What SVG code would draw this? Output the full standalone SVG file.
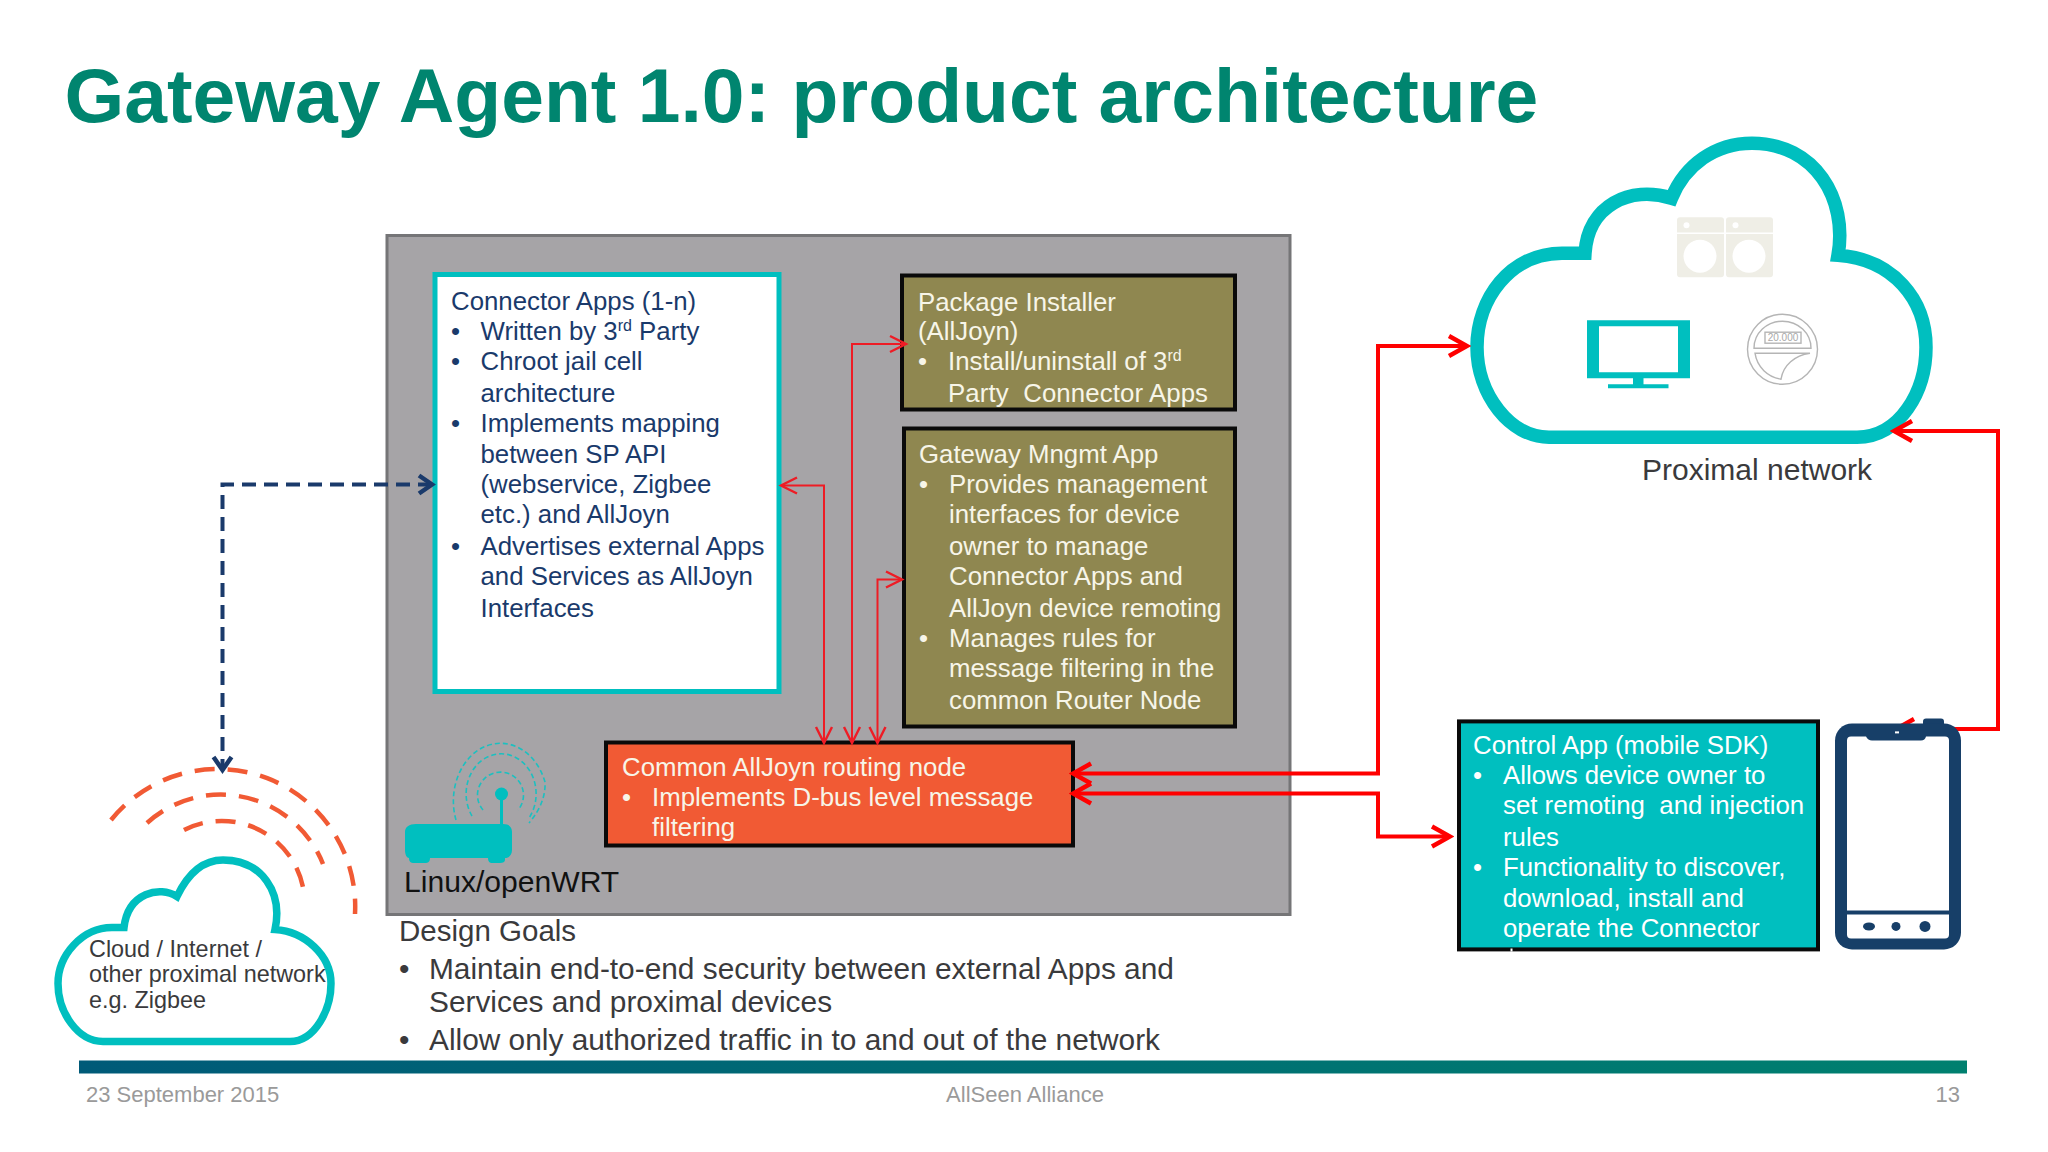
<svg xmlns="http://www.w3.org/2000/svg" width="2048" height="1152" viewBox="0 0 2048 1152">
<style>
text{font-family:"Liberation Sans",Arial,sans-serif;white-space:pre}
.b{font-size:25.8px}
.navy{fill:#1a3a6b}.lt{fill:#f7f5e8}.wh{fill:#fff}
.dk{fill:#3a3a3c}
.dg{font-size:29.850px}
.foot{font-size:22px;fill:#9a9a9a}
.arc{fill:none;stroke:#f15a34;stroke-width:4.5;stroke-dasharray:20 13}
.ring{fill:none;stroke:#1cc0c0;stroke-width:1.6;stroke-dasharray:5 3}
.thin{fill:none;stroke:#ee1c25;stroke-width:2;marker-start:url(#rt);marker-end:url(#rt)}
.thick{fill:none;stroke:#f00;stroke-width:4;marker-start:url(#rk);marker-end:url(#rk)}
.dash{fill:none;stroke:#1a3a6b;stroke-width:4;stroke-dasharray:14 8;marker-start:url(#nv);marker-end:url(#nv)}
.cloud{fill:#fff;stroke:#00bfbf}
.m{fill:none;stroke:#b5b5b5;stroke-width:1.4}
</style>
<defs>
<linearGradient id="bar"><stop offset="0" stop-color="#005a78"/><stop offset="1" stop-color="#00806f"/></linearGradient>
<marker id="rt" markerUnits="userSpaceOnUse" markerWidth="22" markerHeight="22" refX="19" refY="11" orient="auto-start-reverse"><path d="M3 3L19 11L3 19" fill="none" stroke="#ee1c25" stroke-width="2.4"/></marker>
<marker id="rk" markerUnits="userSpaceOnUse" markerWidth="26" markerHeight="30" refX="22" refY="15" orient="auto-start-reverse"><path d="M4 5L22 15L4 25" fill="none" stroke="#f00" stroke-width="4.5"/></marker>
<marker id="nv" markerUnits="userSpaceOnUse" markerWidth="24" markerHeight="26" refX="20" refY="13" orient="auto-start-reverse"><path d="M7 4L20 13L7 22" fill="none" stroke="#1a3a6b" stroke-width="4.5"/></marker>
</defs>
<rect width="2048" height="1152" fill="#fff"/>
<text id="title" x="64.500" y="122" font-size="76.8" font-weight="700" fill="#00856f">Gateway Agent 1.0: product architecture</text>

<g id="gateway-device">
<rect x="387" y="235.500" width="903" height="679" fill="#a6a4a7" stroke="#757577" stroke-width="3"/>
<text x="404" y="892" font-size="30.100" fill="#111">Linux/openWRT</text>
</g>

<g id="router-icon" transform="translate(0,-2)">
<path d="M416 826H500V796H503V826H503.500H503C509 826 512 829 512 834V852C512 857 509 860 505 860V862C505 864 503 865 500 865H492C490 865 488 864 488 860H430C430 864 428 865 425 865H414C411 865 409 864 409 860C407 860 405 857 405 852V834C405 829 409 826 416 826Z" fill="#00bfbf"/>
<circle cx="501.500" cy="796" r="6.500" fill="#00bfbf"/>
<path class="ring" d="M483 812A23 23 0 1 1 518 812"/>
<path class="ring" d="M472 818A35 40 0 1 1 529 820"/>
<path class="ring" d="M456 822A46.500 57 0 0 1 545 784Q546 805 529 825"/>
</g>

<g id="connector-apps">
<rect x="435" y="274.500" width="344" height="417" fill="#fff" stroke="#00bfbf" stroke-width="5"/>
<text class="b navy" x="451" y="309.500">Connector Apps (1-n)</text>
<text class="b navy" x="451" y="339.500">•</text><text class="b navy" x="480.500" y="339.500">Written by 3<tspan font-size="16" dy="-9">rd</tspan><tspan dy="9"> Party</tspan></text>
<text class="b navy" x="451" y="369.500">•</text><text class="b navy" x="480.500" y="369.500">Chroot jail cell</text>
<text class="b navy" x="480.500" y="401.500">architecture</text>
<text class="b navy" x="451" y="431.500">•</text><text class="b navy" x="480.500" y="431.500">Implements mapping</text>
<text class="b navy" x="480.500" y="463">between SP API</text>
<text class="b navy" x="480.500" y="493">(webservice, Zigbee</text>
<text class="b navy" x="480.500" y="523">etc.) and AllJoyn</text>
<text class="b navy" x="451" y="555">•</text><text class="b navy" x="480.500" y="555">Advertises external Apps</text>
<text class="b navy" x="480.500" y="585">and Services as AllJoyn</text>
<text class="b navy" x="480.500" y="617">Interfaces</text>
</g>

<g id="package-installer">
<rect x="902" y="275.500" width="333" height="134" fill="#8f8750" stroke="#0a0a0a" stroke-width="4"/>
<text class="b lt" x="918" y="311">Package Installer</text>
<text class="b lt" x="918" y="340">(AllJoyn)</text>
<text class="b lt" x="918" y="370">•</text><text class="b lt" x="948" y="370">Install/uninstall of 3<tspan font-size="16" dy="-9">rd</tspan></text>
<text class="b lt" x="948" y="402" textLength="260" lengthAdjust="spacing">Party  Connector Apps</text>
</g>

<g id="gateway-mngmt-app">
<rect x="904" y="428.500" width="331" height="298" fill="#8f8750" stroke="#0a0a0a" stroke-width="4"/>
<text class="b lt" x="919" y="463">Gateway Mngmt App</text>
<text class="b lt" x="919" y="493">•</text><text class="b lt" x="949" y="493">Provides management</text>
<text class="b lt" x="949" y="523">interfaces for device</text>
<text class="b lt" x="949" y="555">owner to manage</text>
<text class="b lt" x="949" y="585">Connector Apps and</text>
<text class="b lt" x="949" y="617">AllJoyn device remoting</text>
<text class="b lt" x="919" y="647">•</text><text class="b lt" x="949" y="647">Manages rules for</text>
<text class="b lt" x="949" y="677">message filtering in the</text>
<text class="b lt" x="949" y="709">common Router Node</text>
</g>

<g id="routing-node">
<rect x="606" y="742.500" width="467" height="103" fill="#f15a34" stroke="#0a0a0a" stroke-width="4"/>
<text class="b lt" x="622" y="775.500">Common AllJoyn routing node</text>
<text class="b lt" x="622" y="805.500">•</text><text class="b lt" x="652" y="805.500">Implements D-bus level message</text>
<text class="b lt" x="652" y="835.500">filtering</text>
</g>

<g id="design-goals">
<text class="dk" x="399" y="941" font-size="29.500">Design Goals</text>
<text class="dk dg" x="399" y="979">•</text><text class="dk dg" x="429" y="979">Maintain end-to-end security between external Apps and</text>
<text class="dk dg" x="429" y="1011.500">Services and proximal devices</text>
<text class="dk dg" x="399" y="1050">•</text><text class="dk dg" x="429" y="1050">Allow only authorized traffic in to and out of the network</text>
</g>

<g id="proximal-network" transform="translate(0,-0.800)">
<path class="cloud" stroke-width="13.500" d="M1549 438H1857C1900 438 1926 392 1926 348C1926 300 1893 260 1838 256C1848 200 1815 144 1752 144C1715 144 1685 166 1671.500 199C1630 186 1588 206 1585 254H1562C1510 254 1477 300 1477 348C1477 395 1510 438 1549 438Z"/>
<g fill="#efeee6">
<path fill-rule="evenodd" d="M1680 218H1721Q1724 218 1724 221V275Q1724 278 1721 278H1680Q1677 278 1677 275V221Q1677 218 1680 218ZM1700 240.500A16.500 16.500 0 1 0 1700 273.500A16.500 16.500 0 1 0 1700 240.500Z"/>
<path fill-rule="evenodd" d="M1729 218H1770Q1773 218 1773 221V275Q1773 278 1770 278H1729Q1726 278 1726 275V221Q1726 218 1729 218ZM1749 240.500A16.500 16.500 0 1 0 1749 273.500A16.500 16.500 0 1 0 1749 240.500Z"/>
</g>
<path d="M1677 234H1773" stroke="#fff" stroke-width="1.500"/>
<circle cx="1686.500" cy="226" r="3" fill="#fff"/><circle cx="1735.500" cy="226" r="3" fill="#fff"/>
<path fill="#00bfbf" fill-rule="evenodd" d="M1587 321H1690V379H1643.500V385H1668.500V389H1608V385H1633V379H1587ZM1599 327V373H1678V327Z"/>
<ellipse class="m" cx="1782.500" cy="350" rx="35" ry="35"/>
<path class="m" d="M1754 349A28.500 27 0 0 1 1811 349Z"/>
<rect class="m" x="1765" y="333" width="36" height="11" fill="none"/>
<text x="1783" y="342" font-size="10" text-anchor="middle" fill="#a8a8a8">20.000</text>
<path class="m" d="M1755 354H1810C1795 356 1783 366 1781 380C1768 378 1757 368 1755 354Z"/>
<text x="1642" y="481" font-size="30" class="dk">Proximal network</text>
</g>

<g id="zigbee-cloud">
<path class="cloud" stroke-width="7.500" d="M103 1041.500H290C315 1041.500 331 1009.500 331 983.500C331 955.500 305 931.500 275 929.500C283 892.500 262 860 223 860C202 860 187 875.500 177 896.500C160 885.500 128 892.500 124 927.500H112C82 927.500 58 955.500 58 983.500C58 1012.500 78 1041.500 103 1041.500Z"/>
<text x="89" y="957" font-size="23.400" class="dk">Cloud / Internet /</text>
<text x="89" y="982" font-size="23.400" class="dk">other proximal network</text>
<text x="89" y="1008" font-size="23.400" class="dk">e.g. Zigbee</text>
<path class="arc" d="M111 820A137.400 137.400 0 0 1 355 914"/>
<path class="arc" d="M147 823A110 110 0 0 1 323 864"/>
<path class="arc" d="M184 830A83 83 0 0 1 304 893"/>
</g>

<g id="control-app">
<rect x="1459" y="721.400" width="359" height="228" fill="#00bfbf" stroke="#0a0a0a" stroke-width="4"/>
<rect x="1510.500" y="948.500" width="2" height="3" fill="#fff"/>
<text class="b wh" x="1473" y="754">Control App (mobile SDK)</text>
<text class="b wh" x="1473" y="784">•</text><text class="b wh" x="1503" y="784">Allows device owner to</text>
<text class="b wh" x="1503" y="814">set remoting  and injection</text>
<text class="b wh" x="1503" y="846">rules</text>
<text class="b wh" x="1473" y="876">•</text><text class="b wh" x="1503" y="876">Functionality to discover,</text>
<text class="b wh" x="1503" y="907">download, install and</text>
<text class="b wh" x="1503" y="937">operate the Connector</text>
</g>

<g id="connectors">
<path class="thin" d="M781 485.500H824V743"/>
<path class="thin" d="M906 344H852V743"/>
<path class="thin" d="M902 579.500H877.500V743"/>
<path class="thick" d="M1073 773.500H1378V346H1467"/>
<path class="thick" d="M1073 793.500H1378V836.500H1450"/>
<path class="thick" d="M1894 431H1998V729H1896"/>
<path class="dash" d="M432 484.500H222.500V770"/>
</g>

<g id="phone" transform="translate(0,-2.600)">
<rect x="1923" y="721" width="21" height="8" rx="3" fill="#173f68"/>
<rect x="1835" y="726" width="126" height="226" rx="17" fill="#173f68"/>
<path fill="#fff" d="M1851 739H1866Q1868 743 1872 743H1921Q1925 743 1926 739H1945Q1949 739 1949 743V913H1847V743Q1847 739 1851 739Z"/>
<path fill="#fff" d="M1847 917H1949V937Q1949 941 1945 941H1851Q1847 941 1847 937Z"/>
<ellipse cx="1869" cy="929" rx="6" ry="4" fill="#173f68"/><circle cx="1896" cy="929" r="4.500" fill="#173f68"/><circle cx="1925" cy="929" r="5.500" fill="#173f68"/>
<rect x="1895" y="734" width="4" height="2" fill="#fff"/>
</g>

<g id="footer">
<rect x="79" y="1060.500" width="1888" height="13" fill="url(#bar)"/>
<text class="foot" x="86" y="1102">23 September 2015</text>
<text class="foot" x="1025" y="1102" text-anchor="middle">AllSeen Alliance</text>
<text class="foot" x="1960" y="1102" text-anchor="end">13</text>
</g>
</svg>
